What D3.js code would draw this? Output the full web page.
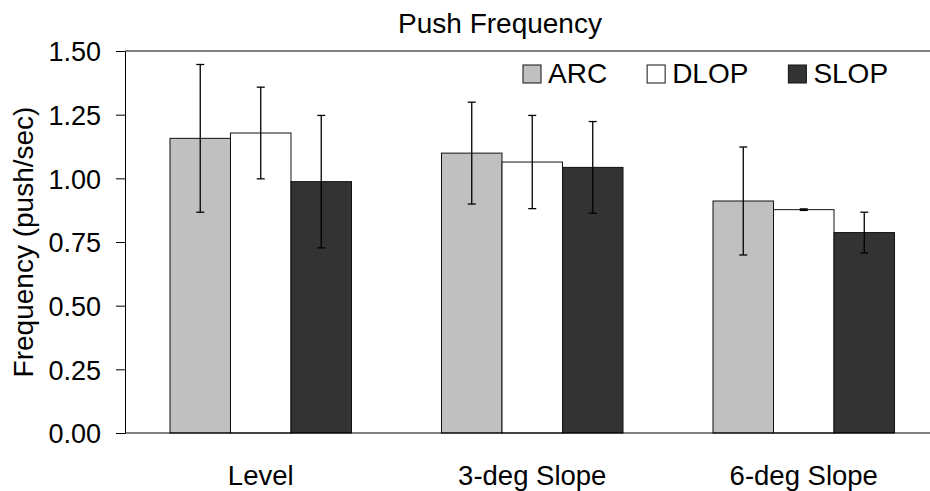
<!DOCTYPE html>
<html>
<head>
<meta charset="utf-8">
<script src="https://cdn.jsdelivr.net/npm/d3@7"></script>
<style>
  body { margin: 0; background: #fff; }
  svg { display: block; font-family: "Liberation Sans", Arial, sans-serif; }
</style>
</head>
<body>
<svg id="chart" width="930" height="491"></svg>
<script>
// data
var categories = ["Level", "3-deg Slope", "6-deg Slope"];
var series = ["ARC", "DLOP", "SLOP"];
var arcMean = [1.157, 1.099, 0.911];
var dlopMean = [1.178, 1.064, 0.877];
var slopMean = [0.987, 1.043, 0.787];
var arcErr = [0.29, 0.20, 0.212];
var dlopErr = [0.18, 0.183, 0.003];
var slopErr = [0.26, 0.18, 0.08];
var yTicks = [0, 0.25, 0.5, 0.75, 1.0, 1.25, 1.5];

var colors = {ARC: "#c0c0c0", DLOP: "#ffffff", SLOP: "#333333"};

var svg = d3.select("#chart");
var plotLeft = 125, plotRight = 939.5, plotTop = 51, plotBottom = 433;

var means = [arcMean, dlopMean, slopMean],
    errs = [arcErr, dlopErr, slopErr];

// flat list of bars
var bars = [];
categories.forEach(function (cat, i) {
    series.forEach(function (s, j) {
        bars.push({cat: cat, series: s, value: means[j][i], err: errs[j][i]});
    });
});

var x0 = d3.scaleBand().domain(categories).range([plotLeft, plotRight])
    .paddingInner(0.3315).paddingOuter(0.1657);
var x1 = d3.scaleBand().domain(series).range([0, x0.bandwidth()]);
var y = d3.scaleLinear().domain([0, 1.5]).range([plotBottom, plotTop]);

function cx(d) { return x0(d.cat) + x1(d.series) + x1.bandwidth() / 2; }

// top frame line
svg.append("line")
    .attr("x1", plotLeft).attr("x2", 930)
    .attr("y1", plotTop).attr("y2", plotTop)
    .attr("stroke", "#000").attr("stroke-width", 1);

// bars
svg.append("g").selectAll("rect").data(bars).enter().append("rect")
    .attr("x", function (d) { return x0(d.cat) + x1(d.series); })
    .attr("y", function (d) { return y(d.value); })
    .attr("width", x1.bandwidth())
    .attr("height", function (d) { return y(0) - y(d.value); })
    .attr("fill", function (d) { return colors[d.series]; })
    .attr("stroke", "#111")
    .attr("stroke-width", 1);

// error bars
var eb = svg.append("g").selectAll("g").data(bars).enter().append("g")
    .attr("stroke", "#000").attr("stroke-width", 1.3);
eb.append("line")
    .attr("x1", cx).attr("x2", cx)
    .attr("y1", function (d) { return y(d.value + d.err); })
    .attr("y2", function (d) { return y(d.value - d.err); });
[1, -1].forEach(function (sign) {
    eb.append("line")
        .attr("x1", function (d) { return cx(d) - 4; })
        .attr("x2", function (d) { return cx(d) + 4; })
        .attr("y1", function (d) { return y(d.value + sign * d.err); })
        .attr("y2", function (d) { return y(d.value + sign * d.err); });
});

// y axis
var yAxis = svg.append("g")
    .attr("transform", "translate(" + plotLeft + ",0)")
    .call(d3.axisLeft(y).tickValues(yTicks).tickFormat(d3.format(".2f"))
        .tickSizeInner(9).tickSizeOuter(0).tickPadding(15));
yAxis.select(".domain").attr("stroke", "#000");
yAxis.selectAll(".tick line").attr("stroke", "#000");
yAxis.selectAll("text").attr("font-size", 27).attr("fill", "#000")
    .attr("font-family", "Liberation Sans, Arial, sans-serif").attr("dy", "0.36em");

// x axis: baseline only, no ticks
var xAxis = svg.append("g")
    .attr("transform", "translate(0," + plotBottom + ")")
    .call(d3.axisBottom(x0).tickSize(0).tickPadding(32));
xAxis.select(".domain").attr("d", "M" + plotLeft + ",0H930").attr("stroke", "#000");
xAxis.selectAll("text").attr("font-size", 27.5).attr("fill", "#000")
    .attr("font-family", "Liberation Sans, Arial, sans-serif");

// title
svg.append("text")
    .attr("x", 500).attr("y", 33)
    .attr("text-anchor", "middle")
    .attr("font-size", 28)
    .text("Push Frequency");

// y label
svg.append("text")
    .attr("transform", "translate(33," + (plotTop + plotBottom) / 2 + ") rotate(-90)")
    .attr("text-anchor", "middle")
    .attr("font-size", 28)
    .text("Frequency (push/sec)");

// legend
var legend = svg.append("g");
var lx = 523;
series.forEach(function (s) {
    var item = legend.append("g").attr("transform", "translate(" + lx + ",65)");
    item.append("rect")
        .attr("width", 18).attr("height", 18)
        .attr("fill", colors[s]).attr("stroke", "#111").attr("stroke-width", 1);
    var t = item.append("text")
        .attr("x", 25).attr("y", 18)
        .attr("font-size", 28)
        .text(s);
    lx += 25 + t.node().getComputedTextLength() + 40;
});
</script>
</body>
</html>
